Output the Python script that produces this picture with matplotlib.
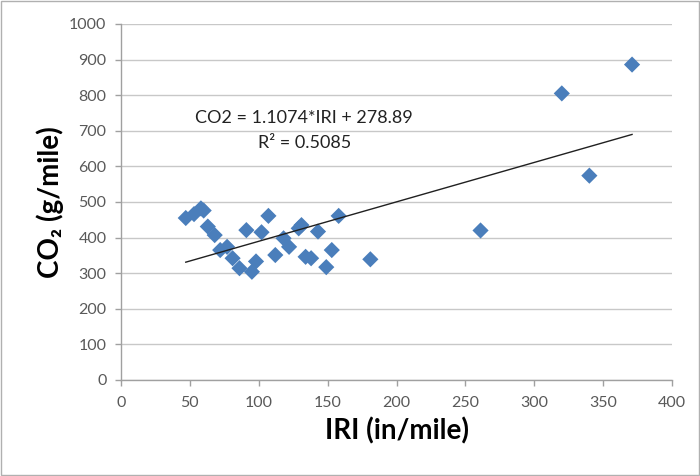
import matplotlib
matplotlib.use("Agg")
import matplotlib.pyplot as plt
from matplotlib.patches import Rectangle

plt.rcParams['font.family'] = ['Lato', 'DejaVu Sans']

# IRI (in/mile) and CO2 (g/mile)
iri = [47, 53, 58, 60, 63, 68, 72, 77, 81, 86, 91, 95, 98, 102, 107, 112,
       118, 122, 129, 131, 134, 138, 143, 149, 153, 158, 181, 261, 320, 340, 371]
co2 = [455, 466, 482, 476, 431, 407, 365, 374, 342, 314, 421, 304, 333, 415, 461, 351,
       398, 374, 426, 435, 346, 342, 417, 317, 365, 461, 339, 420, 805, 574, 886]

# trendline from the chart's own label
slope = 1.1074
intercept = 278.89
r2 = 0.5085

xticks = list(range(0, 401, 50))
yticks = list(range(0, 1001, 100))

fig = plt.figure(figsize=(7, 4.76), dpi=100)
ax = fig.add_axes([0.1729, 0.2017, 0.7871, 0.7479])

grey = '#595959'
ax.set_axisbelow(True)
ax.grid(axis='y', color='#c8c8c8', linewidth=1.0)
ax.grid(axis='x', visible=False)

ax.scatter(iri, co2, marker='D', s=68, color='#4a7ebb', edgecolors='none', zorder=3)

xs = [min(iri), max(iri)]
ax.plot(xs, [slope * x + intercept for x in xs], color='#202020', linewidth=1.0, zorder=4)

ax.text(133, 736, f"CO2 = {slope}*IRI + {intercept}", ha='center', va='center',
        fontsize=13, color='#222222')
ax.text(133, 666, f"R² = {r2}", ha='center', va='center', fontsize=13, color='#222222')

ax.set_xlim(0, 400)
ax.set_ylim(0, 1000)
ax.set_xticks(xticks)
ax.set_yticks(yticks)
ax.tick_params(axis='both', colors='#a0a0a0', labelcolor=grey, labelsize=11.5,
               length=4.5, width=1.0)
ax.tick_params(axis='y', pad=6)
ax.tick_params(axis='x', pad=7)

for side in ['top', 'right']:
    ax.spines[side].set_visible(False)
for side in ['left', 'bottom']:
    ax.spines[side].set_color('#a0a0a0')
    ax.spines[side].set_linewidth(1.0)

ax.set_xlabel("IRI (in/mile)", fontsize=20, fontweight='bold', color='black', labelpad=5)
ax.set_ylabel("CO₂ (g/mile)", fontsize=20, fontweight='bold', color='black', labelpad=4)

fig.patches.append(Rectangle((0.002, 0.002), 0.996, 0.996, transform=fig.transFigure,
                             fill=False, edgecolor='#b0b0b0', linewidth=1.0))

fig.savefig("out.png", dpi=100)
